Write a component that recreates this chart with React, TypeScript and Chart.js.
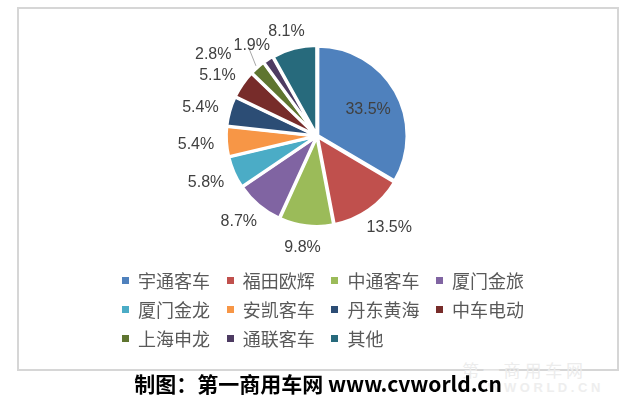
import React, { useEffect, useRef } from "react";
import { Chart, registerables } from "chart.js";

Chart.register(...registerables);

const categories = ["宇通客车", "福田欧辉", "中通客车", "厦门金旅", "厦门金龙", "安凯客车", "丹东黄海", "中车电动", "上海申龙", "通联客车", "其他"];
const shares = [33.5, 13.5, 9.8, 8.7, 5.8, 5.4, 5.4, 5.1, 2.8, 1.9, 8.1];
const sliceColors = ["#4F81BD", "#C0504D", "#9BBB59", "#8064A2", "#4BACC6", "#F79646", "#2C4D75", "#772C2A", "#5F7530", "#4D3B62", "#276A7C"];
const labelTexts = shares.map((v) => v.toFixed(1) + "%");
const caption = "制图：第一商用车网 www.cvworld.cn";
const watermarkTop = "第 一 商 用 车 网";
const watermarkBottom = "W W O R L D . C N";

const labelPlugin = {
  id: "sliceLabels",
  afterDatasetsDraw(chart: any) {
    const ctx = chart.ctx;
    const meta = chart.getDatasetMeta(0);
    ctx.save();
    ctx.font = "16px 'Liberation Sans', sans-serif";
    ctx.textAlign = "center";
    ctx.textBaseline = "middle";
    const h = 14;
    const boxes = meta.data.map((arc: any, i: number) => {
      const p = arc.getProps(["x", "y", "startAngle", "endAngle", "outerRadius"], true);
      const off = arc.options.offset || 0;
      const mid = (p.startAngle + p.endAngle) / 2;
      const dx = Math.cos(mid);
      const dy = Math.sin(mid);
      const text = labelTexts[i];
      const w = ctx.measureText(text).width;
      const edge = p.outerRadius + off - 1;
      let cx: number, cy: number;
      const D = edge + 11;
      if (i === 0) {
        cx = p.x + dx * edge * 0.64;
        cy = p.y + dy * edge * 0.64 + 3;
      } else {
        cx = p.x + dx * D + (dx * w) / 2;
        cy = p.y + dy * D + (dy * h) / 2 + 2;
      }
      return { i, text, w, cx, cy, ox: p.x + dx * (edge + 1), oy: p.y + dy * (edge + 1), ax: p.x + dx * D, ay: p.y + dy * D, moved: false };
    });
    for (let k = boxes.length - 1; k > 1; k--) {
      const a = boxes[k];
      const b = boxes[k - 1];
      if (Math.abs(a.cx - b.cx) < (a.w + b.w) / 2 + 2 && Math.abs(a.cy - b.cy) < h * 0.75) {
        b.cx = a.cx - (a.w + b.w) / 2 - 2;
        b.moved = true;
      }
    }
    boxes.forEach((b: any) => {
      if (b.moved) {
        ctx.strokeStyle = "#a6a6a6";
        ctx.lineWidth = 1;
        ctx.beginPath();
        ctx.moveTo(b.ox, b.oy);
        ctx.lineTo(b.ax, b.ay - 9);
        ctx.stroke();
      }
    });
    ctx.fillStyle = "#404040";
    boxes.forEach((b: any) => {
      ctx.fillText(b.text, b.cx, b.cy);
    });
    ctx.restore();
  },
};

export default function App() {
  const canvasRef = useRef<HTMLCanvasElement | null>(null);

  useEffect(() => {
    if (!canvasRef.current) return;
    const chart = new Chart(canvasRef.current, {
      type: "pie",
      data: {
        labels: categories,
        datasets: [
          {
            data: shares,
            backgroundColor: sliceColors,
            borderColor: "#ffffff",
            borderWidth: 3,
            offset: 4,
          },
        ],
      },
      options: {
        responsive: false,
        animation: false,
        events: [],
        layout: { padding: { left: 224.5, right: 231.5, top: 43.5, bottom: 178.5 } },
        plugins: {
          legend: { display: false },
          tooltip: { enabled: false },
          title: { display: false },
        },
      },
      plugins: [labelPlugin],
    } as any);
    return () => chart.destroy();
  }, []);

  const cols = 4;
  return (
    <div style={{ position: "fixed", left: 0, top: 0, width: 641, height: 407, background: "#ffffff", overflow: "hidden" }}>
      <div
        style={{
          position: "absolute",
          left: 17,
          top: 7,
          width: 602,
          height: 364,
          border: "2px solid #d6d6d6",
          boxSizing: "border-box",
        }}
      />
      <div style={{ position: "absolute", left: 462, top: 360, fontFamily: "'Noto Sans CJK SC', sans-serif", fontSize: 17, color: "#ececec", whiteSpace: "pre", lineHeight: "20px" }}>
        {watermarkTop}
      </div>
      <div style={{ position: "absolute", left: 488, top: 380, fontFamily: "'Liberation Sans', sans-serif", fontWeight: 700, fontSize: 13, color: "#eeeeee", whiteSpace: "pre", lineHeight: "16px" }}>
        {watermarkBottom}
      </div>
      <canvas ref={canvasRef} width={641} height={407} style={{ position: "absolute", left: 0, top: 0, width: 641, height: 407 }} />
      {categories.map((c, i) => {
        const col = i % cols;
        const row = Math.floor(i / cols);
        return (
          <div
            key={c}
            style={{
              position: "absolute",
              left: 122 + col * 104.7,
              top: 280 + row * 29.2 - 13,
              height: 26,
              display: "flex",
              alignItems: "center",
              fontFamily: "'Noto Sans CJK SC', sans-serif",
              fontSize: 18,
              color: "#595959",
              whiteSpace: "nowrap",
            }}
          >
            <span style={{ display: "inline-block", width: 7, height: 7, background: sliceColors[i], marginRight: 9 }} />
            <span>{c}</span>
          </div>
        );
      })}
      <div
        style={{
          position: "absolute",
          left: 17,
          width: 602,
          top: 370,
          textAlign: "center",
          fontFamily: "'Noto Sans CJK SC', sans-serif",
          fontWeight: 700,
          fontSize: 21,
          lineHeight: "26px",
          color: "#000000",
          whiteSpace: "nowrap",
        }}
      >
        {caption}
      </div>
    </div>
  );
}
